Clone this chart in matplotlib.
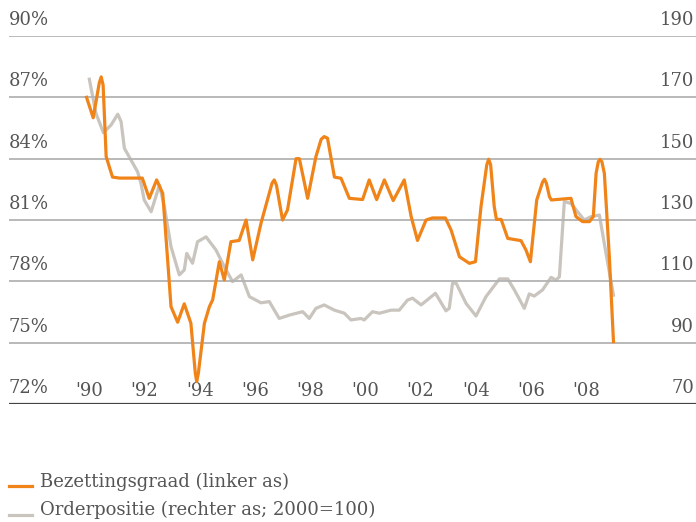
import numpy as np
import matplotlib.pyplot as plt
from matplotlib.lines import Line2D
from matplotlib.transforms import blended_transform_factory

plt.rcParams['font.family'] = ['DejaVu Serif']

ORANGE = '#f08419'
GREY = '#c9c4bd'
TXT = '#555555'

# Bezettingsgraad (linker as), %
bez_years = [1989.90, 1990.14, 1990.36, 1990.43, 1990.50, 1990.61, 1990.84, 1991.09, 1991.92,
             1992.17, 1992.44, 1992.66, 1992.84, 1992.96, 1993.20, 1993.44, 1993.68, 1993.84,
             1993.89, 1993.95, 1994.17, 1994.35, 1994.47, 1994.71, 1994.89, 1995.13, 1995.43,
             1995.68, 1995.92, 1996.22, 1996.62, 1996.70, 1996.78, 1997.00, 1997.18, 1997.49,
             1997.61, 1997.91, 1998.21, 1998.40, 1998.51, 1998.63, 1998.88, 1999.12, 1999.42,
             1999.90, 2000.14, 2000.41, 2000.69, 2001.01, 2001.41, 2001.66, 2001.89, 2002.20,
             2002.43, 2002.90, 2003.11, 2003.41, 2003.77, 2003.99, 2004.19, 2004.40, 2004.47,
             2004.54, 2004.67, 2004.75, 2004.92, 2005.16, 2005.64, 2005.82, 2005.98, 2006.21,
             2006.42, 2006.49, 2006.56, 2006.67, 2006.74, 2007.45, 2007.63, 2007.87, 2008.12,
             2008.26, 2008.36, 2008.44, 2008.50, 2008.57, 2008.66, 2008.84, 2008.99]
bez_values = [87.0, 86.0, 87.7, 88.0, 87.6, 84.1, 83.1, 83.05, 83.05,
              82.06, 82.96, 82.3, 79.0, 76.76, 76.0, 76.9, 75.95, 73.5,
              73.1, 73.5, 75.95, 76.76, 77.1, 78.96, 78.07, 79.94, 80.0,
              81.0, 79.05, 80.84, 82.8, 82.96, 82.7, 81.0, 81.49, 84.0,
              84.0, 82.06, 84.1, 84.95, 85.08, 85.0, 83.1, 83.04, 82.06,
              82.0, 82.96, 82.0, 82.96, 81.95, 82.96, 81.17, 80.0, 81.0,
              81.1, 81.1, 80.5, 79.2, 78.88, 78.96, 81.65, 83.7, 83.97,
              83.7, 81.65, 81.03, 81.03, 80.1, 79.99, 79.53, 78.96, 81.98,
              82.85, 82.99, 82.8, 82.14, 81.98, 82.06, 81.17, 80.92, 80.92,
              81.17, 83.28, 83.85, 83.97, 83.85, 83.28, 79.2, 75.05]

# Orderpositie (rechter as; 2000=100)
ord_years = [1990.00, 1990.24, 1990.51, 1990.79, 1991.03, 1991.15, 1991.27, 1991.75, 1991.87,
             1991.99, 1992.24, 1992.54, 1992.72, 1992.96, 1993.26, 1993.44, 1993.53, 1993.74,
             1993.92, 1994.23, 1994.59, 1994.89, 1995.19, 1995.50, 1995.80, 1996.22, 1996.52,
             1996.88, 1997.25, 1997.73, 1997.97, 1998.21, 1998.51, 1998.88, 1999.24, 1999.48,
             1999.84, 1999.96, 2000.26, 2000.51, 2000.93, 2001.23, 2001.53, 2001.71, 2002.02,
             2002.54, 2002.92, 2003.04, 2003.16, 2003.29, 2003.65, 2004.01, 2004.37, 2004.86,
             2005.16, 2005.40, 2005.76, 2005.94, 2006.12, 2006.42, 2006.73, 2006.91, 2007.03,
             2007.21, 2007.45, 2007.69, 2007.93, 2008.18, 2008.48, 2008.72, 2008.99]
ord_values = [175.9, 164.8, 158.5, 161.0, 164.5, 162.1, 153.4, 145.7, 141.96,
              136.5, 132.7, 141.4, 134.3, 121.3, 112.1, 113.7, 119.1, 115.9,
              122.9, 124.5, 120.2, 114.8, 109.9, 112.1, 105.0, 103.0, 103.4,
              97.9, 99.0, 100.1, 97.9, 101.2, 102.3, 100.6, 99.6, 97.4,
              97.9, 97.4, 100.1, 99.6, 100.6, 100.6, 103.9, 104.5, 102.3,
              106.1, 100.4, 101.2, 109.4, 109.4, 102.8, 98.7, 105.0, 110.8,
              110.8, 107.2, 101.2, 105.9, 105.2, 107.2, 111.3, 110.4, 111.5,
              136.0, 135.4, 132.7, 130.0, 131.1, 131.6, 119.1, 105.5]

left_ticks = [72, 75, 78, 81, 84, 87, 90]
right_ticks = [70, 90, 110, 130, 150, 170, 190]
year_ticks = list(range(1990, 2010, 2))
year_labels = ["'90", "'92", "'94", "'96", "'98", "'00", "'02", "'04", "'06", "'08"]

fig = plt.figure(figsize=(6.96, 5.22), dpi=100)
ax = fig.add_axes([9 / 696, 1 - 404 / 522, 687 / 696, 368 / 522])
ax2 = ax.twinx()

ax.set_xlim(1987.09, 2011.98)
ax.set_ylim(72, 90)
ax2.set_ylim(70, 190)

for v in left_ticks[1:]:
    ax.axhline(v, color='#b3b3b3', lw=1.3, zorder=0)
ax.axhline(72, color='#444444', lw=1.6, zorder=0)

ax2.plot(ord_years, ord_values, color=GREY, lw=2.3, solid_joinstyle='round')
ax.plot(bez_years, bez_values, color=ORANGE, lw=2.3, solid_joinstyle='round', zorder=5)
ax.set_zorder(ax2.get_zorder() + 1)
ax.patch.set_visible(False)

for a in (ax, ax2):
    a.set_xticks([])
    a.set_yticks([])
    for s in a.spines.values():
        s.set_visible(False)

FS = 13
tl = blended_transform_factory(ax.transAxes, ax.transData)
for v in left_ticks:
    ax.text(0.0, v + 0.78, f'{v}%', transform=tl, ha='left', va='center',
            fontsize=FS, color=TXT)
tr = blended_transform_factory(ax2.transAxes, ax2.transData)
for v in right_ticks:
    ax2.text(0.997, v + 5.2, f'{v}', transform=tr, ha='right', va='center',
             fontsize=FS, color=TXT)
for yr, lab in zip(year_ticks, year_labels):
    ax.text(yr, 72.65, lab, ha='center', va='center', fontsize=FS, color=TXT)

# legend
fig.add_artist(Line2D([9 / 696, 32 / 696], [1 - 486 / 522] * 2, color=ORANGE, lw=2.3))
fig.text(40 / 696, 1 - 482 / 522, 'Bezettingsgraad (linker as)', ha='left', va='center',
         fontsize=FS, color=TXT)
fig.add_artist(Line2D([9 / 696, 32 / 696], [1 - 515 / 522] * 2, color=GREY, lw=2.3))
fig.text(40 / 696, 1 - 510 / 522, 'Orderpositie (rechter as; 2000=100)', ha='left', va='center',
         fontsize=FS, color=TXT)

fig.savefig('out.png', dpi=100)
